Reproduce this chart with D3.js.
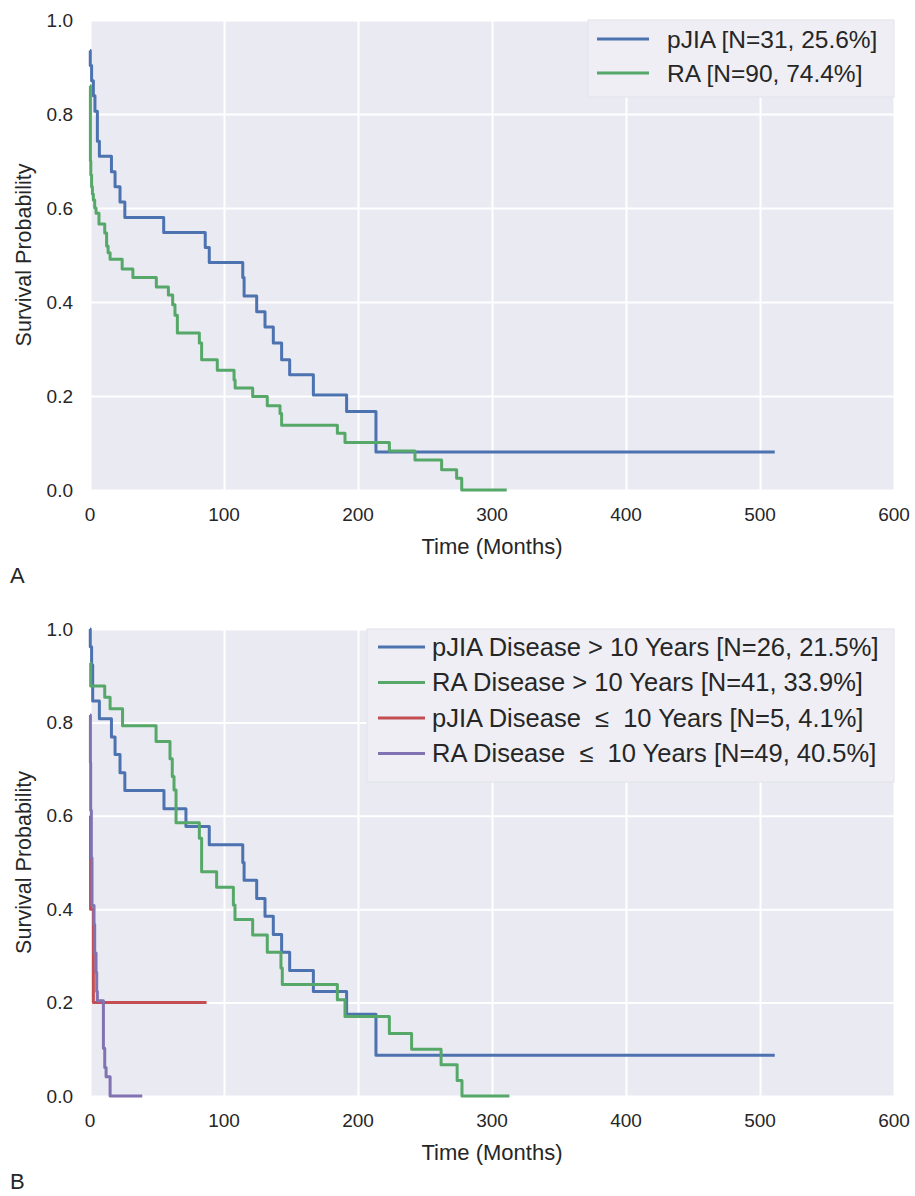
<!DOCTYPE html>
<html>
<head>
<meta charset="utf-8">
<script src="https://cdn.jsdelivr.net/npm/d3@7"></script>
<style>
  body { margin: 0; background: #fff; }
  svg text { font-family: "Liberation Sans", Arial, Helvetica, sans-serif; fill: #262626; }
  .legend text { white-space: pre; }
</style>
</head>
<body>
<div id="chart"></div>
<script>
// axis ticks
const ticksX = [0, 100, 200, 300, 400, 500, 600];
const ticksY = [0, 0.2, 0.4, 0.6, 0.8, 1.0];

// panel A: [month, survival] step points
const pjiaAll = [[0,0.935],[0.2,0.903],[1.2,0.871],[2.5,0.839],[3.7,0.806],[5.5,0.742],[7,0.71],[16,0.677],
  [18.7,0.645],[22.4,0.613],[26,0.58],[55,0.548],[86,0.516],[89,0.484],[114,0.452],[115,0.413],[124.4,0.379],
  [130.6,0.347],[136.8,0.313],[143,0.277],[149,0.245],[166.7,0.202],[191.5,0.167],[213.4,0.081],[511,0.081]];
const raAll = [[0,0.86],[0.3,0.70],[0.6,0.67],[1.2,0.645],[1.8,0.63],[2.5,0.617],[3.5,0.60],[4.5,0.589],
  [6.7,0.566],[11,0.547],[12.4,0.519],[13.5,0.505],[15,0.491],[24,0.47],[32,0.452],[49.5,0.432],[58.5,0.415],
  [61.7,0.394],[63.4,0.372],[65.2,0.334],[81.6,0.313],[83.3,0.277],[95,0.255],[107.5,0.234],[108.3,0.217],
  [121.4,0.199],[132.3,0.179],[141.8,0.163],[143,0.138],[184.6,0.121],[190.3,0.101],[223.4,0.083],
  [242.5,0.064],[262.4,0.043],[273.6,0.025],[277.4,0],[311,0]];

// panel B
const pjiaLong = [[0,1.0],[0.2,0.962],[1.2,0.923],[2,0.846],[7,0.808],[16,0.769],[18.7,0.731],[22.4,0.692],
  [26,0.654],[55.2,0.615],[71.6,0.577],[89,0.538],[114,0.5],[115,0.462],[124.4,0.423],[130.6,0.385],
  [136.8,0.346],[143,0.308],[149,0.269],[166.7,0.224],[191.5,0.175],[213.4,0.087],[511,0.087]];
const raLong = [[0,0.927],[0.5,0.878],[11,0.854],[15,0.829],[24.3,0.793],[49.3,0.759],[59.7,0.722],[61.4,0.684],
  [62.7,0.655],[64.2,0.585],[81.6,0.552],[83.3,0.48],[94.5,0.447],[107,0.409],[108.2,0.378],[121.4,0.345],
  [132.3,0.308],[142.5,0.274],[143.5,0.239],[184.6,0.206],[190.3,0.17],[223.4,0.134],[240,0.1],[262,0.067],
  [274,0.033],[277.6,0],[313,0]];
const pjiaShort = [[0,0.6],[0.4,0.4],[2.5,0.2],[87,0.2]];
const raShort = [[0,0.816],[0.3,0.714],[0.5,0.612],[1,0.51],[1.5,0.408],[3,0.367],[3.5,0.306],[4.5,0.265],
  [5,0.224],[5.5,0.204],[10,0.102],[11,0.061],[12,0.041],[15,0],[39,0]];

const labelsA = ['pJIA [N=31, 25.6%]', 'RA [N=90, 74.4%]'];
const labelsB = ['pJIA Disease > 10 Years [N=26, 21.5%]', 'RA Disease > 10 Years [N=41, 33.9%]',
  'pJIA Disease  \u2264  10 Years [N=5, 4.1%]', 'RA Disease  \u2264  10 Years [N=49, 40.5%]'];
const colors = ['#4C72B0', '#55A868', '#C44E52', '#8172B2'];

const svg = d3.select('#chart').append('svg')
  .attr('width', 915)
  .attr('height', 1196);

function drawPanel(cfg) {
  const x = d3.scaleLinear().domain([0, 600]).range([90, 894]);
  const y = d3.scaleLinear().domain([0, 1]).range([cfg.bottom, cfg.top]);
  const g = svg.append('g');

  g.append('rect')
    .attr('x', 90).attr('y', cfg.top)
    .attr('width', 804).attr('height', cfg.bottom - cfg.top)
    .style('fill', '#EAEAF2');

  // grid
  g.append('g')
    .attr('transform', 'translate(0,' + cfg.bottom + ')')
    .call(d3.axisBottom(x).tickValues(ticksX).tickSize(cfg.top - cfg.bottom).tickFormat(''))
    .call(s => s.select('.domain').remove())
    .selectAll('line').style('stroke', '#fff').style('stroke-width', 2);
  g.append('g')
    .attr('transform', 'translate(90,0)')
    .call(d3.axisLeft(y).tickValues(ticksY).tickSize(-804).tickFormat(''))
    .call(s => s.select('.domain').remove())
    .selectAll('line').style('stroke', '#fff').style('stroke-width', 2);

  // tick labels
  g.selectAll('.xt').data(ticksX).enter().append('text')
    .attr('x', d => x(d)).attr('y', cfg.bottom + 31)
    .attr('text-anchor', 'middle')
    .style('font-size', '19px')
    .text(d => d);
  g.selectAll('.yt').data(ticksY).enter().append('text')
    .attr('x', 73).attr('y', d => y(d)).attr('dy', '0.35em')
    .attr('text-anchor', 'end')
    .style('font-size', '19px')
    .text(d => d.toFixed(1));

  g.append('text')
    .attr('x', 492).attr('y', cfg.bottom + 64)
    .attr('text-anchor', 'middle')
    .style('font-size', '22px')
    .text('Time (Months)');
  g.append('text')
    .attr('transform', 'translate(31,' + (cfg.top + cfg.bottom) / 2 + ') rotate(-90)')
    .attr('text-anchor', 'middle')
    .style('font-size', '21.5px')
    .text('Survival Probability');
  g.append('text')
    .attr('x', 10).attr('y', cfg.bottom + 93)
    .style('font-size', '22px')
    .text(cfg.letter);

  const line = d3.line()
    .x(d => x(d[0]))
    .y(d => y(d[1]))
    .curve(d3.curveStepAfter);

  cfg.series.forEach((s, i) => {
    g.append('path')
      .attr('d', line(s))
      .style('fill', 'none')
      .style('stroke', colors[i])
      .style('stroke-width', 3)
      .style('stroke-linejoin', 'round');
  });

  // legend
  const lg = g.append('g').attr('class', 'legend');
  const L = cfg.legend;
  lg.append('rect')
    .attr('x', L.x).attr('y', cfg.top)
    .attr('width', 894 - L.x).attr('height', L.h)
    .style('fill', '#EEEEF4')
    .style('stroke', '#E2E2EA');
  cfg.labels.forEach((t, i) => {
    const cy = L.y0 + i * L.dy;
    lg.append('line')
      .attr('x1', L.x + L.l1).attr('x2', L.x + L.l2)
      .attr('y1', cy).attr('y2', cy)
      .style('stroke', colors[i])
      .style('stroke-width', 3);
    lg.append('text')
      .attr('x', L.x + L.tx).attr('y', cy).attr('dy', '0.35em')
      .style('font-size', L.fs)
      .text(t);
  });
}

drawPanel({
  top: 20, bottom: 490, letter: 'A',
  series: [pjiaAll, raAll], labels: labelsA,
  legend: { x: 588, h: 77, y0: 39, dy: 34, fs: '24.5px', l1: 9, l2: 61, tx: 79 }
});

drawPanel({
  top: 629, bottom: 1096, letter: 'B',
  series: [pjiaLong, raLong, pjiaShort, raShort], labels: labelsB,
  legend: { x: 367, h: 153, y0: 647, dy: 35.5, fs: '25.5px', l1: 11, l2: 58, tx: 65 }
});
</script>
</body>
</html>
